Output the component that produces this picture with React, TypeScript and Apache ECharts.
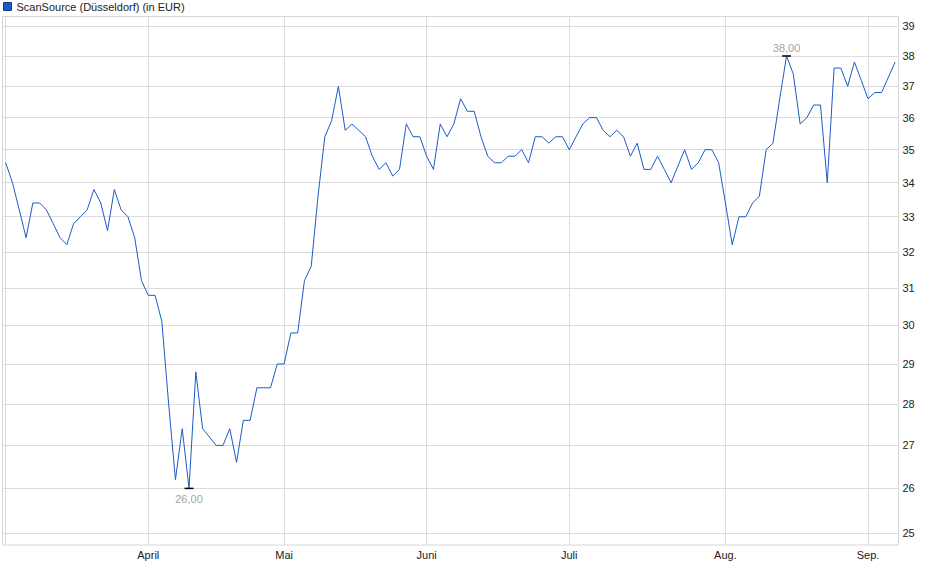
import { useEffect, useRef } from 'react'
import * as echarts from 'echarts'

// Düsseldorf trading calendar, 2025
const FIRST_DAY = [2025, 2, 3]
const LAST_DAY = [2025, 8, 5]
const HOLIDAYS = ['2025-04-18', '2025-04-21', '2025-05-01']

const MONTH_NAMES = ['Jan.', 'Feb.', 'März', 'April', 'Mai', 'Juni', 'Juli', 'Aug.', 'Sep.', 'Okt.', 'Nov.', 'Dez.']

const PRICE_TICKS = [25, 26, 27, 28, 29, 30, 31, 32, 33, 34, 35, 36, 37, 38, 39]

const prices = [
  34.6, 34.0, 33.2, 32.4, 33.4, 33.4, 33.2, 32.8, 32.4, 32.2,
  32.8, 33.0, 33.2, 33.8, 33.4, 32.6, 33.8, 33.2, 33.0, 32.4,
  31.2, 30.8, 30.8, 30.1, 28.0, 26.2, 27.4, 26.0, 28.8, 27.4,
  27.2, 27.0, 27.0, 27.4, 26.6, 27.6, 27.6, 28.4, 28.4, 28.4,
  29.0, 29.0, 29.8, 29.8, 31.2, 31.6, 33.6, 35.4, 35.9, 37.0,
  35.6, 35.8, 35.6, 35.4, 34.8, 34.4, 34.6, 34.2, 34.4, 35.8,
  35.4, 35.4, 34.8, 34.4, 35.8, 35.4, 35.8, 36.6, 36.2, 36.2,
  35.4, 34.8, 34.6, 34.6, 34.8, 34.8, 35.0, 34.6, 35.4, 35.4,
  35.2, 35.4, 35.4, 35.0, 35.4, 35.8, 36.0, 36.0, 35.6, 35.4,
  35.6, 35.4, 34.8, 35.2, 34.4, 34.4, 34.8, 34.4, 34.0, 34.5,
  35.0, 34.4, 34.6, 35.0, 35.0, 34.6, 33.4, 32.2, 33.0, 33.0,
  33.4, 33.6, 35.0, 35.2, 36.6, 38.0, 37.4, 35.8, 36.0, 36.4,
  36.4, 34.0, 37.6, 37.6, 37.0, 37.8, 37.2, 36.6, 36.8, 36.8,
  37.3, 37.8,
]

function tradingDays(): string[] {
  const out: string[] = []
  const day = new Date(Date.UTC(FIRST_DAY[0], FIRST_DAY[1], FIRST_DAY[2]))
  const end = Date.UTC(LAST_DAY[0], LAST_DAY[1], LAST_DAY[2])
  while (day.getTime() <= end) {
    const iso = day.toISOString().slice(0, 10)
    const wd = day.getUTCDay()
    if (wd !== 0 && wd !== 6 && !HOLIDAYS.includes(iso)) out.push(iso)
    day.setUTCDate(day.getUTCDate() + 1)
  }
  return out
}

const dates = tradingDays()

// first trading day of each month
const monthStarts = dates
  .map((d, i) => (i === 0 || d.slice(5, 7) !== dates[i - 1].slice(5, 7) ? i : -1))
  .filter((i) => i >= 0)

const FONT = '"Liberation Sans", Arial, sans-serif'

export default function App() {
  const ref = useRef<HTMLDivElement | null>(null)

  useEffect(() => {
    if (!ref.current) return undefined
    const chart = echarts.init(ref.current, undefined, { renderer: 'svg' })

    chart.setOption({
      animation: false,
      backgroundColor: '#fff',
      textStyle: { fontFamily: FONT },
      legend: {
        left: 3,
        top: 1,
        padding: 0,
        itemWidth: 8,
        itemHeight: 8,
        itemGap: 5,
        icon: 'rect',
        textStyle: { fontSize: 11, color: '#222', fontFamily: FONT, padding: [1, 0, 0, 0] },
        data: [{ name: 'ScanSource (Düsseldorf) (in EUR)', itemStyle: { color: '#1c5bc6', borderColor: '#143c84', borderWidth: 1 } }],
      },
      grid: {
        left: 2.5,
        top: 16.5,
        right: 41.5,
        bottom: 34,
        show: true,
        borderColor: '#d6d6d6',
        borderWidth: 1,
        containLabel: false,
      },
      xAxis: {
        type: 'value',
        min: -0.47,
        max: dates.length - 1 + 0.49,
        axisLine: { show: false },
        axisTick: { show: false, customValues: monthStarts },
        splitLine: { show: true, lineStyle: { color: '#dcdcdc', width: 1 } },
        axisLabel: {
          customValues: monthStarts.slice(1),
          formatter: (v: number) => MONTH_NAMES[Number(dates[Math.round(v)].slice(5, 7)) - 1],
          color: '#222',
          fontSize: 11,
          fontFamily: FONT,
          margin: 4,
        },
      },
      yAxis: {
        type: 'log',
        logBase: 10,
        position: 'right',
        min: 24.74,
        max: 39.34,
        axisLine: { show: false },
        axisTick: { show: false, customValues: PRICE_TICKS },
        splitLine: { show: true, lineStyle: { color: '#dcdcdc', width: 1 } },
        axisLabel: {
          customValues: PRICE_TICKS,
          color: '#222',
          fontSize: 11,
          fontFamily: FONT,
          margin: 4,
        },
      },
      series: [
        {
          name: 'ScanSource (Düsseldorf) (in EUR)',
          type: 'line',
          z: 3,
          showSymbol: false,
          symbol: 'none',
          data: prices.map((p, i) => [i, p]),
          lineStyle: { color: '#1c5bc6', width: 1 },
          itemStyle: { color: '#1c5bc6' },
          markPoint: {
            symbol: 'rect',
            symbolSize: [9, 1.5],
            itemStyle: { color: '#000' },
            label: {
              show: true,
              color: '#a8a29a',
              fontSize: 11,
              fontFamily: FONT,
              formatter: (p: { value: number }) => Number(p.value).toFixed(2).replace('.', ','),
            },
            data: [
              { type: 'min', label: { position: 'bottom', distance: 4 } },
              { type: 'max', label: { position: 'top', distance: 2 } },
            ],
          },
        },
      ],
    })

    return () => chart.dispose()
  }, [])

  return <div ref={ref} style={{ position: 'fixed', left: 0, top: 0, width: 940, height: 579 }} />
}
